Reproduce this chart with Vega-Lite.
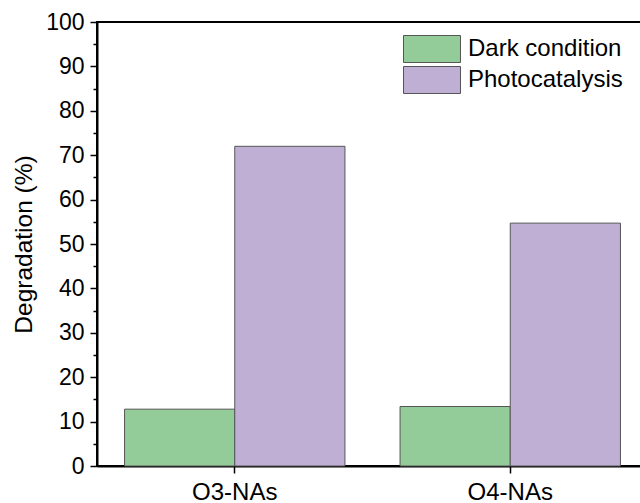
{
  "$schema": "https://vega.github.io/schema/vega-lite/v6.json",
  "autosize": "none",
  "padding": {"left": 97, "top": 22, "right": 0, "bottom": 37},
  "width": 551,
  "height": 444,
  "config": {
    "font": "Liberation Sans",
    "view": {"stroke": "black", "strokeWidth": 2},
    "axis": {"grid": false, "domainColor": "black", "tickColor": "black", "labelColor": "black", "titleColor": "black"}
  },
  "data": {
    "values": [
      {"sample": "O3-NAs", "condition": "Dark condition", "degradation": 12.8},
      {"sample": "O3-NAs", "condition": "Photocatalysis", "degradation": 72.0},
      {"sample": "O4-NAs", "condition": "Dark condition", "degradation": 13.4},
      {"sample": "O4-NAs", "condition": "Photocatalysis", "degradation": 54.7}
    ]
  },
  "mark": {"type": "bar", "stroke": "#555555", "strokeWidth": 1},
  "encoding": {
    "x": {
      "field": "sample",
      "type": "nominal",
      "scale": {"paddingInner": 0.2, "paddingOuter": 0.1},
      "axis": {
        "title": null,
        "labelAngle": 0,
        "labelFontSize": 24,
        "labelPadding": 7,
        "tickSize": 7,
        "tickWidth": 1.5,
        "domainWidth": 2
      }
    },
    "xOffset": {
      "field": "condition",
      "type": "nominal",
      "scale": {"paddingInner": 0, "paddingOuter": 0}
    },
    "y": {
      "field": "degradation",
      "type": "quantitative",
      "scale": {"domain": [0, 100], "nice": false},
      "axis": {
        "title": "Degradation (%)",
        "titleFontSize": 24.5,
        "titleFontWeight": "normal",
        "titlePadding": 9,
        "values": [0, 5, 10, 15, 20, 25, 30, 35, 40, 45, 50, 55, 60, 65, 70, 75, 80, 85, 90, 95, 100],
        "labelExpr": "datum.value % 10 === 0 ? datum.label : ''",
        "labelFontSize": 23,
        "labelPadding": 6,
        "tickSize": {"condition": {"test": "datum.value % 10 === 0", "value": 7}, "value": 4},
        "tickWidth": 1.5,
        "domainWidth": 2
      }
    },
    "color": {
      "field": "condition",
      "type": "nominal",
      "scale": {"domain": ["Dark condition", "Photocatalysis"], "range": ["#93CC98", "#C0AFD4"]},
      "legend": {
        "title": null,
        "orient": "none",
        "legendX": 320,
        "legendY": 12,
        "padding": 0,
        "symbolType": "M-2,-0.947H2V0.947H-2Z",
        "symbolSize": 812,
        "symbolStrokeColor": "#555555",
        "symbolStrokeWidth": 1,
        "symbolOpacity": 1,
        "labelFontSize": 24,
        "labelColor": "black",
        "labelOffset": 21,
        "rowPadding": -1
      }
    }
  }
}
